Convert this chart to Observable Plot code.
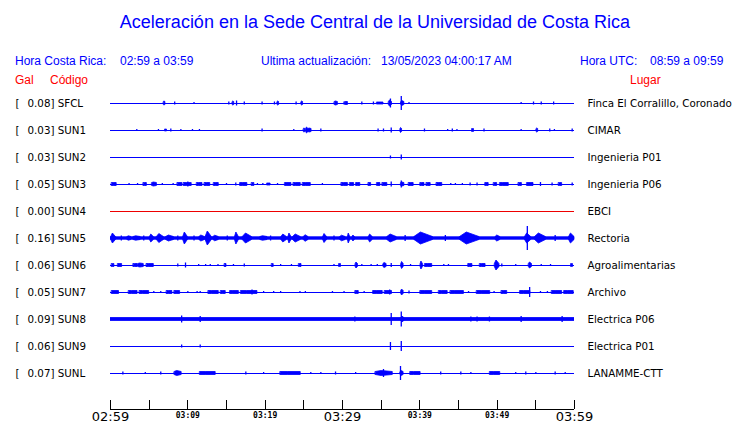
<!DOCTYPE html>
<html>
<head>
<meta charset="utf-8">
<script src="https://cdn.jsdelivr.net/npm/d3@7"></script>
<script src="https://cdn.jsdelivr.net/npm/@observablehq/plot@0.6"></script>
<style>
  html, body { margin: 0; padding: 0; background: #fff; }
  #page { position: relative; width: 740px; height: 423px; overflow: hidden; }
  #head { position: relative; width: 740px; height: 88px; font-family: "Liberation Sans", Arial, sans-serif; }
  #head span { position: absolute; white-space: nowrap; line-height: 14px; font-size: 12px; }
  .blue { color: #0000ff; }
  .red { color: #ff0000; }
  #title { left: 0; width: 750px; text-align: center; top: 11px; font-size: 18px !important; line-height: 22px !important; }
  #chart svg { display: block; overflow: visible; }
</style>
</head>
<body>
<div id="page">
  <div id="head">
    <span id="title" class="blue">Aceleración en la Sede Central de la Universidad de Costa Rica</span>
    <span class="blue" style="left:15px;top:54px">Hora Costa Rica:</span>
    <span class="blue" style="left:120px;top:54px">02:59 a 03:59</span>
    <span class="blue" style="left:261px;top:54px">Ultima actualización:</span>
    <span class="blue" style="left:381px;top:54px">13/05/2023 04:00:17 AM</span>
    <span class="blue" style="left:580px;top:54px">Hora UTC:</span>
    <span class="blue" style="left:650px;top:54px">08:59 a 09:59</span>
    <span class="red" style="left:15px;top:73px">Gal</span>
    <span class="red" style="left:50px;top:73px">Código</span>
    <span class="red" style="left:630px;top:73px">Lugar</span>
  </div>
  <div id="chart"></div>
</div>
<script>
// ---- Data ----
const codes  = ["SFCL","SUN1","SUN2","SUN3","SUN4","SUN5","SUN6","SUN7","SUN8","SUN9","SUNL"];
const gal    = [0.08, 0.03, 0.03, 0.05, 0.00, 0.16, 0.06, 0.05, 0.09, 0.06, 0.07];
const places = ["Finca El Corralillo, Coronado","CIMAR","Ingenieria P01","Ingenieria P06","EBCI",
                "Rectoria","Agroalimentarias","Archivo","Electrica P06","Electrica P01","LANAMME-CTT"];
// continuous background noise level (amplitude units)
const noise  = [0, 0, 0, 0, 0, 1.7, 0, 0, 1.9, 0, 0];

// minutes since 02:59 for the axis ticks and labels
const tickMinutes = [0,5,10,15,20,25,30,35,40,45,50,55,60];
const labelMinutes = [0,10,20,30,40,50,60];
const labelTexts   = ["02:59","03:09","03:19","03:29","03:39","03:49","03:59"];
const majorLabels  = ["02:59","03:29","03:59"];

// Bursts per station: [start minute, end minute, amplitude]
const evSFCL = [[6.9,7.1,2],[8.3,8.3,1.5],[10.8,10.8,1],[15.3,15.3,1.5],[15.8,16.0,2],[16.3,16.3,2.5],[17.3,17.3,1.5],[19.6,19.6,1.5],[21.2,21.2,1.5],[21.6,21.8,2],[24.0,24.0,1.5],[24.7,24.9,2],[29.0,29.4,2],[30.2,30.2,1.5],[30.4,30.7,1.5],[32.5,32.5,1.5],[34.0,34.0,1.5],[34.5,35.3,1],[36.0,36.4,3],[36.2,36.2,4.5],[37.6,37.6,7],[37.6,38.0,2.5],[38.6,38.6,1],[53.1,53.1,1],[54.7,54.7,1.5],[55.7,55.7,1.5],[57.3,57.3,1.5]];
const evSUN1 = [[3.4,3.4,1],[6.2,6.2,1],[7.1,7.3,1],[7.8,7.8,1.5],[9.1,9.1,1],[10.6,10.6,1],[11.5,11.5,1],[19.6,19.6,1.5],[23.7,23.7,1],[25.0,25.2,2],[25.3,25.6,3],[25.6,26.0,2],[27.2,27.2,1.5],[34.6,34.6,1.5],[35.3,35.3,1.5],[36.3,36.3,2.5],[37.5,37.7,2.5],[40.6,40.6,1.5],[43.6,43.6,1],[44.2,44.2,1.5],[44.8,44.8,1],[46.8,47.0,1.5],[48.3,48.3,1.5],[53.1,53.1,1],[55.1,55.3,2],[56.8,56.8,1.5],[57.4,57.4,1],[59.7,59.7,1.5]];
const evSUN2 = [[36.2,36.2,1.5],[37.6,37.6,2.5]];
const evSUN3 = [[0.2,0.8,1.5],[2.4,2.4,1],[3.5,3.5,1],[4.3,4.7,1.5],[5.4,6.0,2],[6.7,6.7,1],[8.1,8.1,1],[8.7,9.3,1.5],[9.5,10.5,1.5],[10.0,10.0,2.5],[11.2,11.9,1.5],[12.2,12.9,1.5],[13.4,14.0,1.5],[15.0,15.0,1],[16.2,16.2,1.5],[16.8,17.7,1.5],[18.3,18.6,1.5],[19.0,19.0,1],[19.7,19.7,1],[20.3,20.7,1],[21.6,21.6,1],[22.6,23.4,1.5],[23.7,24.6,1.5],[24.9,25.9,1.5],[27.4,27.4,1],[29.9,30.7,1.5],[31.0,31.5,1.5],[31.8,32.3,1.5],[33.4,33.7,1.5],[34.5,34.9,1.5],[35.2,35.8,1.5],[36.3,36.3,2.5],[37.6,37.6,3.5],[37.6,38.0,2],[38.6,39.2,1.5],[40.1,40.6,1.5],[40.9,41.4,1.5],[42.2,42.9,1.5],[44.0,44.0,1],[44.6,44.6,1],[45.5,45.5,1],[46.5,46.5,1.5],[47.4,47.4,1.5],[48.5,48.9,1.5],[49.6,50.0,1.5],[50.4,51.5,1.5],[52.8,53.2,1.5],[53.9,54.7,1.5],[55.6,55.6,2],[57.1,57.1,1.5],[58.0,58.4,1.5],[59.7,59.7,1.5]];
const evSUN4 = [];
const evSUN5 = [[0.1,0.7,5],[1.4,1.4,2.5],[2.2,2.7,2.2],[3.0,3.9,2.2],[4.3,4.3,2.5],[5.1,5.6,4],[6.0,6.9,4.5],[7.2,8.2,3],[8.7,8.7,2.5],[9.4,10.0,6],[10.8,10.8,2.5],[11.5,12.2,3],[12.3,13.1,7],[13.3,14.0,2.8],[15.1,15.1,2.5],[16.1,16.6,6],[17.1,18.3,5],[19.4,20.3,2.3],[20.7,20.7,2.5],[22.1,22.8,4],[23.0,23.4,5],[23.6,24.6,4],[25.0,25.6,3.3],[27.5,28.0,4.5],[28.9,28.9,2.5],[29.7,30.4,2.8],[30.7,31.0,5],[31.3,31.6,3],[33.4,33.9,4],[35.8,37.0,4],[38.1,38.1,3],[39.3,41.7,6],[43.3,43.3,3],[45.2,47.7,6],[49.8,50.4,3],[53.6,54.4,5],[53.9,53.9,12],[54.9,56.3,5],[57.5,57.5,3],[59.3,60,5]];
const evSUN6 = [[0.2,0.5,1.5],[1.0,1.5,1.5],[3.0,3.5,1.5],[3.6,4.3,2],[4.7,5.6,1.5],[8.7,8.7,1.5],[9.7,9.7,2.5],[11.4,11.4,1],[12.3,12.3,1],[12.9,12.9,1],[13.9,13.9,1],[14.8,15.0,1.5],[15.9,15.9,1],[17.3,17.3,1.5],[20.9,21.1,1.5],[22.0,22.0,1],[23.4,23.4,1],[24.4,24.7,1.5],[28.9,28.9,1],[29.6,29.8,1.5],[31.7,32.0,3],[32.5,32.5,1],[33.7,33.7,1],[34.5,34.5,1],[35.3,35.7,2.5],[36.3,36.3,2],[37.6,37.9,3.5],[38.8,38.8,1],[40.1,40.4,4],[40.7,41.6,1.5],[43.1,43.1,1],[43.7,43.7,1],[46.3,46.8,1.5],[47.8,48.5,1.5],[49.7,50.3,5],[50.6,50.6,1.5],[52.4,52.4,1],[54.1,54.5,3],[55.7,55.7,1],[56.9,56.9,1],[59.6,59.8,1.5]];
const evSUN7 = [[0.2,1.1,1.5],[2.4,3.5,1.5],[3.8,5.0,1.5],[5.6,5.6,1],[6.5,6.5,1],[7.3,8.0,1.5],[8.3,9.0,1.5],[10.0,10.0,1],[11.2,11.2,1],[11.6,11.6,1],[12.7,14.0,1.5],[14.3,14.9,1.5],[15.5,16.6,1.5],[16.9,19.0,1.5],[18.3,18.3,2.5],[19.8,19.8,1],[21.1,21.1,1],[22.0,22.0,1],[24.5,24.5,1],[25.2,25.2,1],[28.7,28.7,1],[30.2,30.2,1],[31.7,32.1,1.5],[32.8,32.8,1],[34.0,35.2,1.5],[35.5,36.4,1.5],[36.1,36.1,2.5],[37.6,37.9,3],[38.6,38.6,1.5],[40.1,41.6,1.5],[42.5,43.6,1.5],[44.0,45.7,1.5],[46.3,46.3,1],[47.4,49.1,1.5],[49.6,49.6,1],[50.6,51.3,1.5],[53.0,54.3,1.5],[54.2,54.2,5],[55.6,55.6,1],[56.5,56.5,1],[57.1,58.4,1.5],[58.7,59.9,1.5]];
const evSUN8 = [[9.2,9.2,3.5],[11.6,11.6,3],[31.6,31.6,2.5],[36.3,36.3,6],[37.6,37.6,7.5],[37.6,38.0,3],[46.6,46.6,2.5],[47.4,47.4,2.5],[49.0,49.0,2.5],[53.1,53.1,3],[58.4,58.4,3]];
const evSUN9 = [[9.2,9.2,1.5],[11.6,11.6,1.5],[36.2,36.2,4],[37.6,37.6,5]];
const evSUNL = [[1.6,1.6,1.5],[4.5,4.5,1],[6.5,6.5,1.5],[8.3,9.2,2.5],[11.6,13.6,1.5],[17.5,17.5,1.5],[19.8,19.8,1],[22.0,24.6,1.5],[25.9,25.9,1],[27.2,27.2,1],[29.1,29.1,1.5],[31.7,31.7,1],[34.3,36.5,2.5],[35.3,35.3,4],[37.5,37.5,7],[37.5,37.9,2.5],[38.8,40.1,1.5],[42.7,42.7,1.5],[45.3,45.3,1.5],[46.6,46.6,1],[49.1,50.4,1.5],[52.4,52.4,1],[53.7,53.7,1.5],[55.0,55.0,1],[57.5,57.5,1.5],[58.8,58.8,1]];
const events = [evSFCL, evSUN1, evSUN2, evSUN3, evSUN4, evSUN5, evSUN6, evSUN7, evSUN8, evSUN9, evSUNL];

// ---- Build tables ----
const rows = codes.map((code, i) => ({row: i, code, gal: gal[i], place: places[i], noise: noise[i]}));
const bursts = events.flatMap((list, i) => list.map(([t0, t1, a], j) => ({id: i + "-" + j, row: i, t0, t1, a})));
const blocks = bursts.filter(d => d.t1 > d.t0);
const spikes = bursts.filter(d => d.t1 <= d.t0);
const gain = 1 / 27;          // amplitude units -> row units
const axisRow = 11.33;        // axis line position (row units)
const tickTop = 11.0;
const labels = labelMinutes.map((m, i) => ({m, text: labelTexts[i], major: majorLabels.includes(labelTexts[i])}));

// each block drawn as a spindle-shaped envelope (onset, peak, coda)
const envelope = blocks.flatMap(d => {
  const base = Math.min(d.a, 1.5);
  const tp = d.t0 + 0.35 * (d.t1 - d.t0);
  return [[d.t0, base], [tp, d.a], [d.t1, base]].map(([t, h]) => ({id: d.id, t, lo: d.row - h * gain, hi: d.row + h * gain}));
});

const traceColor = d => d.gal === 0 ? "#ee0000" : "#0000ff";

const chart = Plot.plot({
  width: 740,
  height: 335,
  marginLeft: 110,
  marginRight: 166,
  marginTop: 0,
  marginBottom: 0,
  style: {fontFamily: "'DejaVu Sans', sans-serif", fontSize: "10.3px", color: "black", background: "white", overflow: "visible"},
  x: {domain: [0, 60], axis: null},
  y: {domain: [0, 10], range: [15, 285], axis: null},
  marks: [
    // baselines
    Plot.ruleY(rows, {y: "row", stroke: traceColor, strokeWidth: 1, shapeRendering: "crispEdges"}),
    // continuous noise band
    Plot.rect(rows.filter(d => d.noise > 0), {x1: () => 0, x2: () => 60, y1: d => d.row - d.noise * gain, y2: d => d.row + d.noise * gain, fill: "#0000ff"}),
    // burst envelopes
    Plot.areaY(envelope, {x: "t", y1: "lo", y2: "hi", z: "id", fill: "#0000ff", stroke: "#0000ff", strokeWidth: 0.8}),
    // spikes
    Plot.ruleX(spikes, {x: "t0", y1: d => d.row - d.a * gain, y2: d => d.row + d.a * gain, stroke: "#0000ff", strokeWidth: 1.3}),
    // left labels
    Plot.text(rows, {y: "row", frameAnchor: "left", dx: -95, textAnchor: "start", text: () => "[", fill: "black"}),
    Plot.text(rows, {y: "row", frameAnchor: "left", dx: -83, textAnchor: "start", text: d => d.gal.toFixed(2) + "] " + d.code, fill: "black"}),
    // right labels
    Plot.text(rows, {y: "row", frameAnchor: "right", dx: 13, textAnchor: "start", text: "place", fill: "black"}),
    // time axis
    Plot.ruleY([axisRow], {stroke: "black", strokeWidth: 1, shapeRendering: "crispEdges"}),
    Plot.ruleX(tickMinutes, {x: d => d, y1: tickTop, y2: axisRow, stroke: "black", strokeWidth: 1, shapeRendering: "crispEdges"}),
    Plot.text(labels.filter(d => d.major), {x: "m", y: 11.61, text: "text", fontSize: 13, fill: "black", letterSpacing: "0.5px"}),
    Plot.text(labels.filter(d => !d.major), {x: "m", y: 11.56, text: "text", fontSize: 8, fontWeight: "bold", fontFamily: "'DejaVu Sans Mono', monospace", fill: "black"})
  ]
});
document.getElementById("chart").appendChild(chart);
</script>
</body>
</html>
